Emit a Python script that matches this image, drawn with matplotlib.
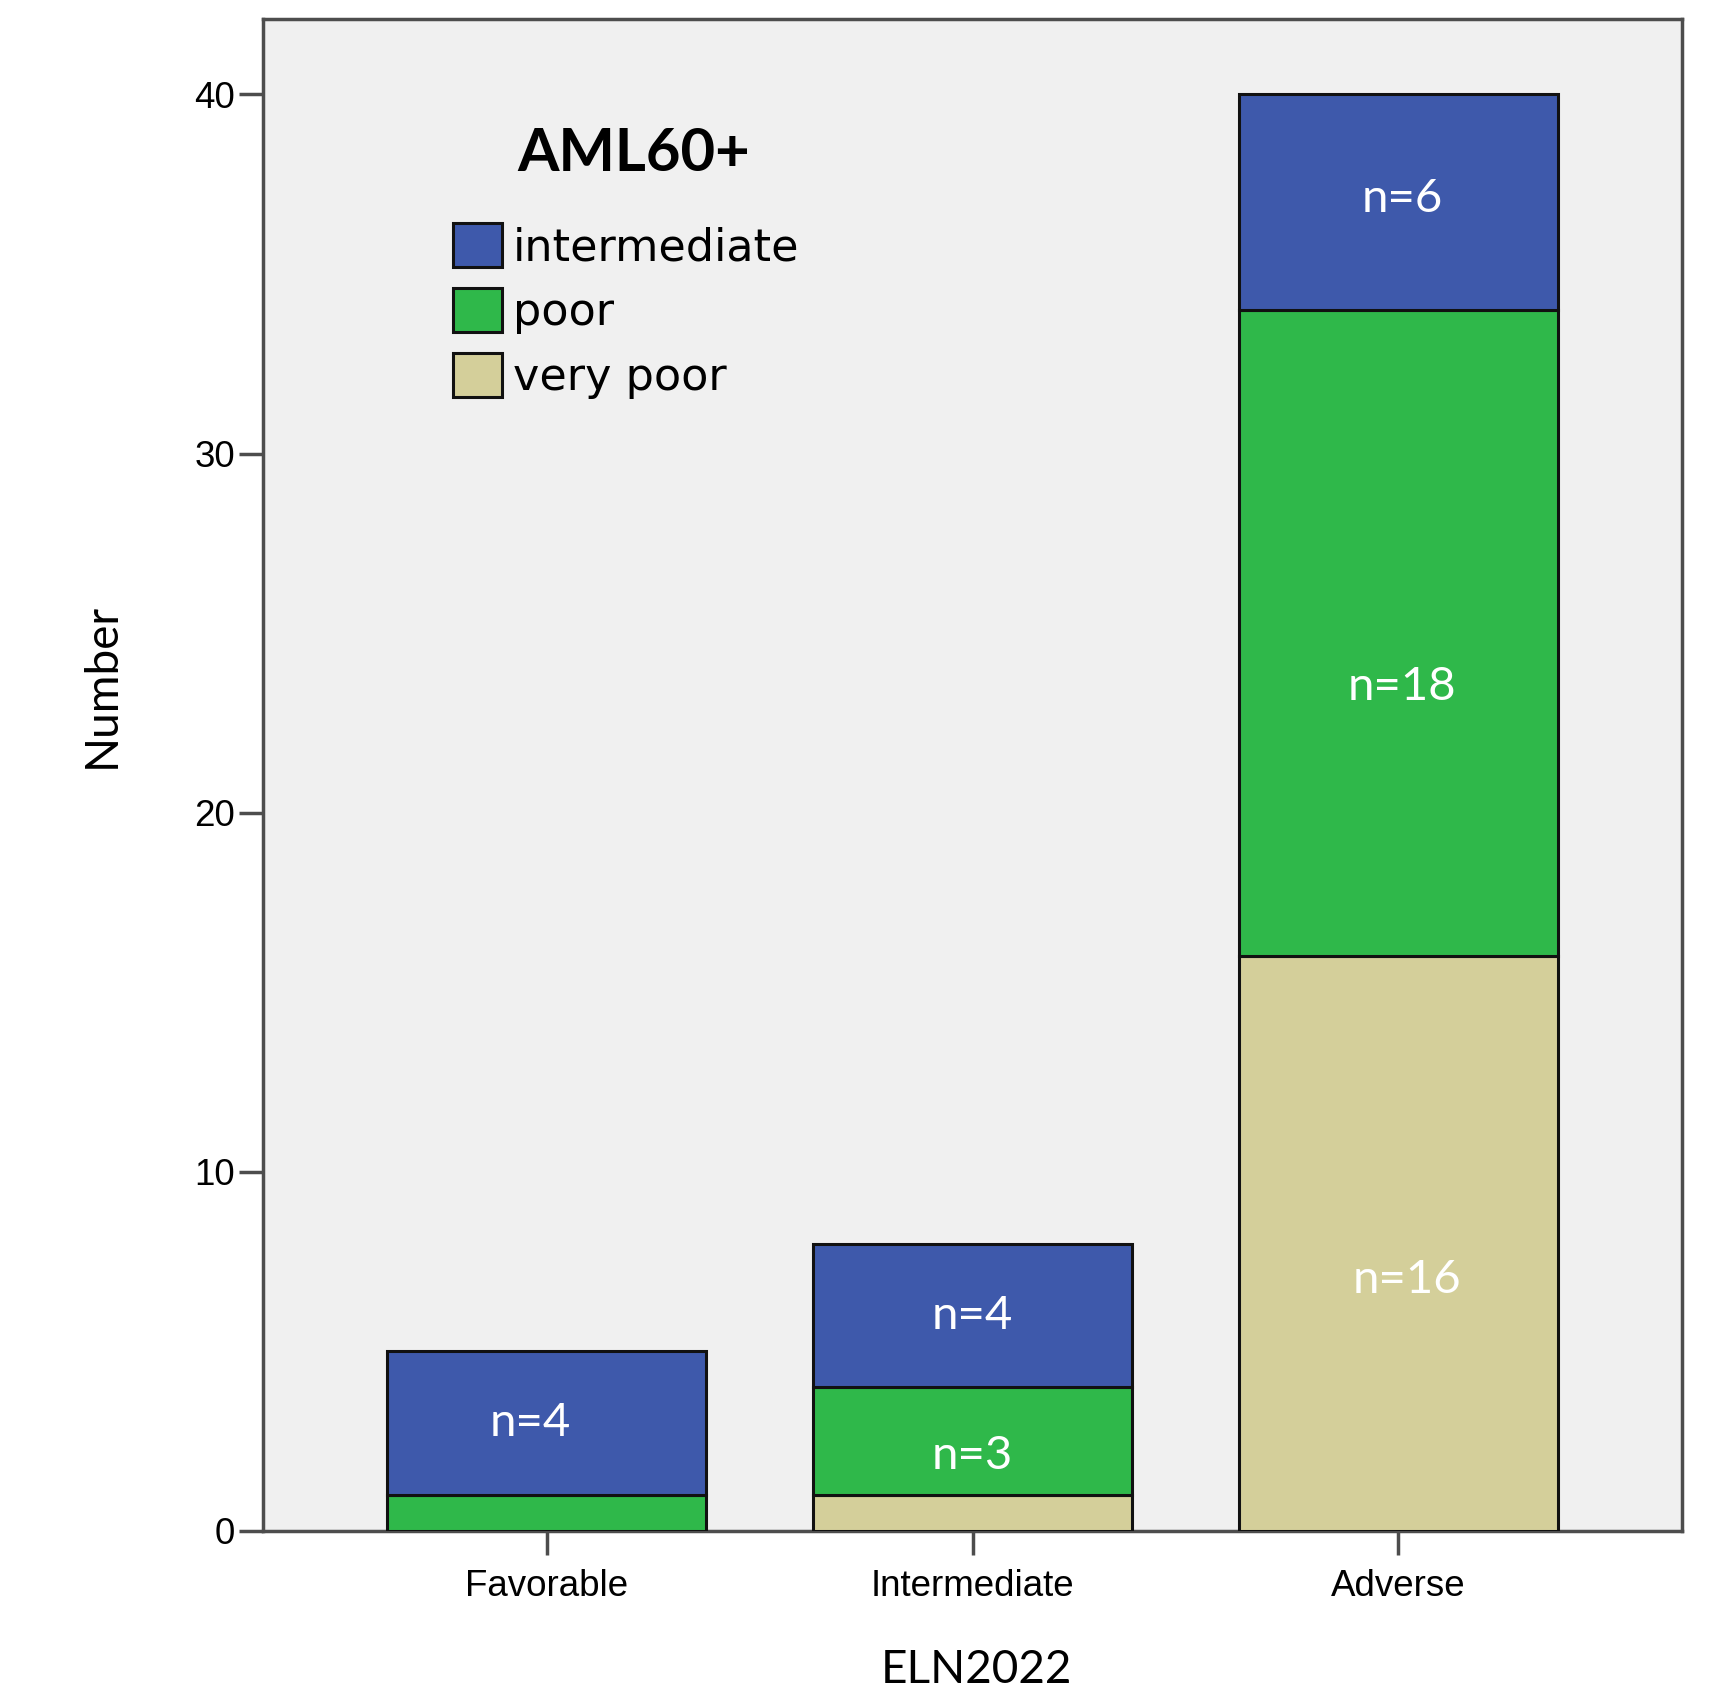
import numpy as np
import matplotlib
matplotlib.use("Agg")
import matplotlib.pyplot as plt
from matplotlib.patches import Patch

# ELN2022 risk groups and counts per AML60+ group
groups = ["Favorable", "Intermediate", "Adverse"]
very_poor = [0, 1, 16]
poor = [1, 3, 18]
intermediate = [4, 4, 6]

series = [("very poor", very_poor, "#d4cf9a"),
          ("poor", poor, "#2fb84a"),
          ("intermediate", intermediate, "#3e59ab")]

# which segments carry an "n=" label, with small (dx, dy) nudges
labelled = {("intermediate", 0): (-0.04, 0.0), ("intermediate", 1): (0.0, 0.0),
            ("poor", 1): (0.0, -0.4), ("intermediate", 2): (0.01, 0.1),
            ("poor", 2): (0.01, -1.5), ("very poor", 2): (0.02, -1.0)}

fig = plt.figure(figsize=(17.32, 16.93), dpi=100)
ax = fig.add_axes([263/1732, 1 - 1531/1693, 1419/1732, 1512/1693])
ax.set_facecolor("#f0f0f0")

x = np.arange(len(groups))
bottom = np.zeros(len(groups))
for name, vals, col in series:
    vals = np.array(vals, dtype=float)
    ax.bar(x, vals, width=0.75, bottom=bottom, color=col,
           edgecolor="#111111", linewidth=2.2, zorder=3)
    for i in range(len(groups)):
        if (name, i) in labelled:
            dx, dy = labelled[(name, i)]
            ax.text(x[i] + dx, bottom[i] + vals[i] / 2 + dy, "n=%d" % vals[i],
                    ha="center", va="center", color="white", fontsize=34,
                    family="Lato", zorder=4)
    bottom += vals

ax.set_xlim(-0.667, 2.667)
ax.set_ylim(0, 42.1)
ax.set_yticks([0, 10, 20, 30, 40])
ax.set_xticks(x)
ax.set_xticklabels(groups)
ax.tick_params(direction="out", length=17, width=2.5, color="#4d4d4d",
               labelsize=26.5)
for lab in ax.get_xticklabels() + ax.get_yticklabels():
    lab.set_family("Liberation Sans")
ax.tick_params(axis="x", pad=10)
ax.tick_params(axis="y", pad=3)
for s in ax.spines.values():
    s.set_color("#4d4d4d")
    s.set_linewidth(2.5)

fig.text(102/1732, 1 - 685/1693, "Number", rotation=90, ha="center", va="center",
         fontsize=33, family="Lato")
fig.text(976/1732, 1 - 1670/1693, "ELN2022", ha="center", va="center",
         fontsize=33, family="Lato")

ax.text(0.2615, 0.911, "AML60+", transform=ax.transAxes, ha="center", va="center",
        fontsize=43, family="Lato", fontweight="bold")

handles = [Patch(facecolor=col, edgecolor="#111111", linewidth=2.2, label=name)
           for name, vals, col in series[::-1]]
ax.legend(handles=handles, loc="upper left", bbox_to_anchor=(0.134, 0.865),
          frameon=False, borderpad=0, borderaxespad=0, handlelength=1.1,
          handleheight=1.15, labelspacing=0.42, handletextpad=0.25,
          prop={"family": "DejaVu Sans", "size": 32})

fig.savefig("out.png", dpi=100, facecolor="white")
